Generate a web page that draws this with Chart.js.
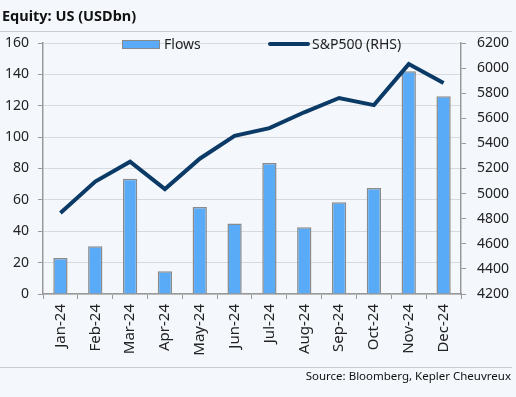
<!DOCTYPE html>
<html>
<head>
<meta charset="utf-8">
<script src="https://cdn.jsdelivr.net/npm/chart.js@4"></script>
<style>
    body { margin: 0; background: #f4f8fc; font-family: 'Noto Sans', sans-serif; }
    #wrap { position: relative; width: 516px; height: 397px; overflow: hidden; }
    #title { position: absolute; left: 2px; top: 5px; font-size: 14.5px; font-weight: bold; color: #111; }
    .rule { position: absolute; left: 0; width: 512px; height: 1px; background: #c8ccd0; }
    #source { position: absolute; right: 5px; top: 368px; font-size: 11.5px; color: #111; }
    #legend { position: absolute; top: 34px; left: 0; font-size: 14px; color: #222; }
    .sw-bar { position: absolute; left: 122px; top: 6px; width: 36px; height: 7px; background: #5aabf7; border: 1px solid #8a8a8a; }
    .sw-line { position: absolute; left: 268px; top: 8px; width: 42px; height: 4px; background: #0b3a66; border-radius: 2px; }
    canvas { position: absolute; left: 0; top: 0; }
</style>
</head>
<body>
<div id="wrap">
    <canvas id="chart" width="516" height="397"></canvas>
    <div id="title">Equity: US (USDbn)</div>
    <div class="rule" style="top:31px"></div>
    <div id="legend">
        <div class="sw-bar"></div><span style="position:absolute;left:164px;top:0">Flows</span>
        <div class="sw-line"></div><span style="position:absolute;left:312px;top:0;white-space:nowrap">S&amp;P500 (RHS)</span>
    </div>
    <div class="rule" style="top:367px"></div>
    <div id="source">Source: Bloomberg, Kepler Cheuvreux</div>
</div>
<script>
// Data
const months = ['Jan-24', 'Feb-24', 'Mar-24', 'Apr-24', 'May-24', 'Jun-24',
                'Jul-24', 'Aug-24', 'Sep-24', 'Oct-24', 'Nov-24', 'Dec-24'];
const flows = [23, 30.5, 73.5, 14.5, 55.5, 45, 83.5, 42.5, 58.5, 67.5, 142, 126];
const sp500 = [4846, 5096, 5254, 5036, 5278, 5460, 5522, 5648, 5762, 5705, 6032, 5882];
const leftTicks = [0, 160, 20];
const rightTicks = [4200, 6200, 200];

const tickFont = { family: 'Noto Sans', size: 14 };

const ctx = document.getElementById('chart').getContext('2d');
new Chart(ctx, {
    data: {
        labels: months,
        datasets: [{
            type: 'line',
            label: 'S&P500 (RHS)',
            data: sp500,
            yAxisID: 'y1',
            borderColor: '#0b3a66',
            borderWidth: 4,
            pointRadius: 0,
            tension: 0,
            order: 0
        }, {
            type: 'bar',
            label: 'Flows',
            data: flows,
            yAxisID: 'y',
            backgroundColor: '#5aabf7',
            borderColor: '#8a8a8a',
            borderWidth: 1.5,
            barPercentage: 0.41,
            categoryPercentage: 1,
            order: 1
        }]
    },
    options: {
        responsive: false,
        animation: false,
        layout: { padding: { top: 43, bottom: 40, left: 0, right: 0 } },
        plugins: { legend: { display: false }, tooltip: { enabled: false } },
        scales: {
            x: {
                offset: true,
                grid: { offset: true, drawOnChartArea: false, tickLength: 5, color: '#999' },
                border: { color: '#999', width: 1.5 },
                ticks: { font: { family: 'Noto Sans', size: 15 }, color: '#222', minRotation: 90, maxRotation: 90, padding: 5 },
                afterFit: s => { s.height = 397 - 294 - 40; }
            },
            y: {
                position: 'left',
                min: leftTicks[0], max: leftTicks[1],
                ticks: { stepSize: leftTicks[2], font: tickFont, color: '#222', padding: 9 },
                grid: { color: '#d6dade', tickLength: 5, tickColor: '#999' },
                border: { color: '#999', width: 1.5 },
                afterFit: s => { s.width = 43; }
            },
            y1: {
                position: 'right',
                min: rightTicks[0], max: rightTicks[1],
                ticks: { stepSize: rightTicks[2], font: tickFont, color: '#222', padding: 11,
                         callback: v => String(v) },
                grid: { drawOnChartArea: false, tickLength: 5, color: '#999' },
                border: { color: '#999', width: 1.5 },
                afterFit: s => { s.width = 516 - 461; }
            }
        }
    }
});
</script>
</body>
</html>
